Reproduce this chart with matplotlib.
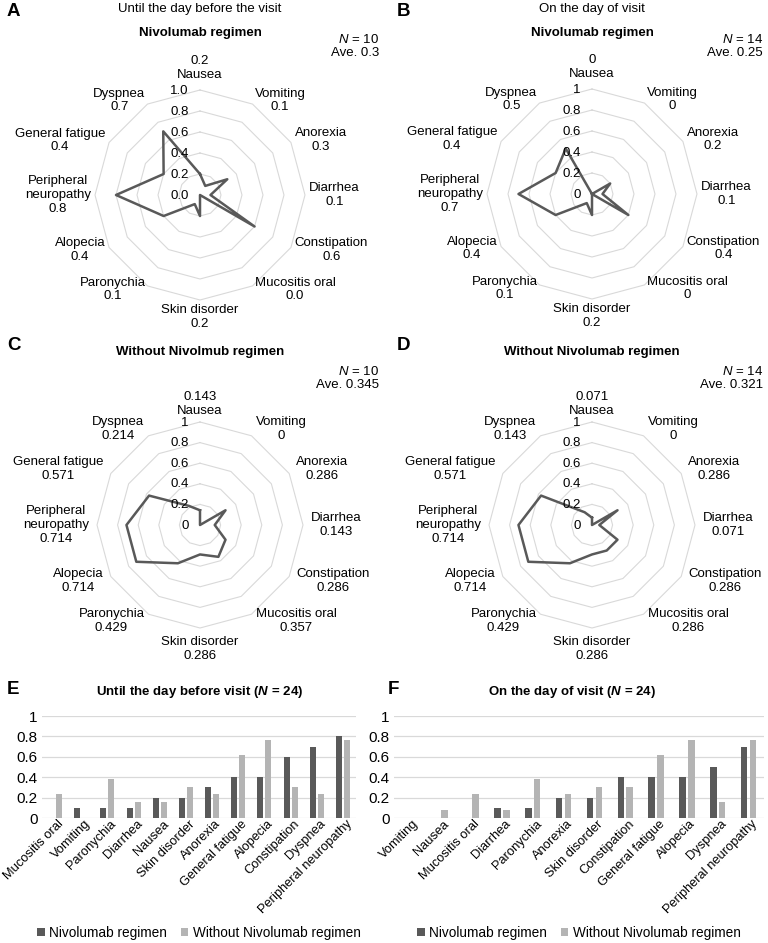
import numpy as np
import matplotlib
matplotlib.use("Agg")
import matplotlib.pyplot as plt
import matplotlib.transforms as mtransforms

plt.rcParams['font.family'] = ['Liberation Sans', 'DejaVu Sans']
plt.rcParams['mathtext.fontset'] = 'custom'
plt.rcParams['mathtext.rm'] = 'Liberation Sans'
plt.rcParams['mathtext.it'] = 'Liberation Sans:italic'
plt.rcParams['mathtext.bf'] = 'Liberation Sans:bold'
plt.rcParams['mathtext.bfit'] = 'Liberation Sans:italic:bold'

# radar categories (clockwise from top)
radar_cats = ['Nausea', 'Vomiting', 'Anorexia', 'Diarrhea', 'Constipation', 'Mucositis oral',
              'Skin disorder', 'Paronychia', 'Alopecia', 'Peripheral\nneuropathy',
              'General fatigue', 'Dyspnea']
nivo_before = [0.2, 0.1, 0.3, 0.1, 0.6, 0.0, 0.2, 0.1, 0.4, 0.8, 0.4, 0.7]
nivo_day = [0, 0, 0.2, 0.1, 0.4, 0, 0.2, 0.1, 0.4, 0.7, 0.4, 0.5]
without_before = [0.143, 0, 0.286, 0.143, 0.286, 0.357, 0.286, 0.429, 0.714, 0.714, 0.571, 0.214]
without_day = [0.071, 0, 0.286, 0.071, 0.286, 0.286, 0.286, 0.429, 0.714, 0.714, 0.571, 0.143]

# bar charts
cats_e = ['Mucositis oral', 'Vomiting', 'Paronychia', 'Diarrhea', 'Nausea', 'Skin disorder',
          'Anorexia', 'General fatigue', 'Alopecia', 'Constipation', 'Dyspnea',
          'Peripheral neuropathy']
nivo_e = [0, 0.1, 0.1, 0.1, 0.2, 0.2, 0.3, 0.4, 0.4, 0.6, 0.7, 0.8]
without_e = [0.231, 0, 0.385, 0.154, 0.154, 0.308, 0.231, 0.615, 0.769, 0.308, 0.231, 0.769]

cats_f = ['Vomiting', 'Nausea', 'Mucositis oral', 'Diarrhea', 'Paronychia', 'Anorexia',
          'Skin disorder', 'Constipation', 'General fatigue', 'Alopecia', 'Dyspnea',
          'Peripheral neuropathy']
nivo_f = [0, 0, 0, 0.1, 0.1, 0.2, 0.2, 0.4, 0.4, 0.4, 0.5, 0.7]
without_f = [0, 0.077, 0.231, 0.077, 0.385, 0.231, 0.308, 0.308, 0.615, 0.769, 0.154, 0.769]

W, H = 768, 943
DARK = '#595959'
LIGHT = '#B4B4B4'
GRID = '#D9D9D9'
FS = 9.5

fig = plt.figure(figsize=(W / 100, H / 100), dpi=100)


def rect(x0, y0, x1, y1):
    return [x0 / W, 1 - y1 / H, (x1 - x0) / W, (y1 - y0) / H]


def ftext(x, y, s, **kw):
    kw.setdefault('fontsize', FS)
    fig.text(x / W, 1 - y / H, s, **kw)


def fmt1(v):
    return f"{v:.1f}"


def fmtg(v):
    return f"{v:g}"


def radar(cx, cy, R, vals, fmt, lab_r, top_r):
    ax = fig.add_axes(rect(cx - R, cy - R, cx + R, cy + R), projection='polar')
    ax.set_theta_zero_location('N')
    ax.set_theta_direction(-1)
    ax.set_ylim(0, 1)
    ax.axis('off')
    theta = np.arange(12) * 2 * np.pi / 12
    tc = np.append(theta, theta[0])
    levels = np.arange(0, 1.01, 0.2)
    for lv in levels[1:]:
        ax.plot(tc, [lv] * 13, color=GRID, lw=0.8, clip_on=False, zorder=1)
    ax.plot(tc, np.append(vals, vals[0]), color=DARK, lw=1.8, clip_on=False, zorder=3)
    for lv in levels:
        ax.annotate(fmt(lv), xy=(0, lv), xytext=(-8, -0.5), textcoords='offset points',
                    ha='right', va='center', fontsize=FS, zorder=4)
    for i, name in enumerate(radar_cats):
        s, c = np.sin(theta[i]), np.cos(theta[i])
        if i == 0:
            txt = f"{fmt(vals[i])}\n{name}"
        else:
            txt = f"{name}\n{fmt(vals[i])}"
        ha = 'center' if abs(s) < 0.1 else ('left' if s > 0 else 'right')
        if c > 0.9:
            va, r = 'bottom', top_r
        elif c < -0.9:
            va, r = 'top', lab_r
        else:
            va, r = 'center', lab_r
        ax.text(theta[i], r, txt, ha=ha, va=va, multialignment='center', fontsize=FS)
    return ax


# panel A / B
ftext(7, 11, 'A', fontsize=13.5, fontweight='bold', va='center')
ftext(200, 9, 'Until the day before the visit', ha='center', va='center')
ftext(200, 33, 'Nivolumab regimen', ha='center', va='center', fontweight='bold')
ftext(379, 46, '$\\mathit{N}$ = 10\nAve. 0.3', ha='right', va='center', multialignment='right')
radar(200, 195, 105, nivo_before, fmt1, 1.04, 1.09)

ftext(397, 11, 'B', fontsize=13.5, fontweight='bold', va='center')
ftext(592, 9, 'On the day of visit', ha='center', va='center')
ftext(592, 33, 'Nivolumab regimen', ha='center', va='center', fontweight='bold')
ftext(763, 46, '$\\mathit{N}$ = 14\nAve. 0.25', ha='right', va='center', multialignment='right')
radar(592, 194, 105, nivo_day, fmtg, 1.04, 1.09)

# panel C / D
ftext(7, 346, 'C', fontsize=13.5, fontweight='bold', va='center')
ftext(200, 352, 'Without Nivolmub regimen', ha='center', va='center', fontweight='bold')
ftext(379, 378, '$\\mathit{N}$ = 10\nAve. 0.345', ha='right', va='center', multialignment='right')
radar(200, 525, 103, without_before, fmtg, 1.08, 1.05)

ftext(397, 346, 'D', fontsize=13.5, fontweight='bold', va='center')
ftext(592, 352, 'Without Nivolumab regimen', ha='center', va='center', fontweight='bold')
ftext(763, 378, '$\\mathit{N}$ = 14\nAve. 0.321', ha='right', va='center', multialignment='right')
radar(592, 525, 103, without_day, fmtg, 1.08, 1.05)


def bars(x0, x1, cats, a, b, w, title, tx, letter, lx):
    ax = fig.add_axes(rect(x0, 716, x1, 818))
    x = np.arange(len(cats))
    off = w / 2 + 0.04
    ax.bar(x - off, a, w, color=DARK, label='Nivolumab regimen')
    ax.bar(x + off, b, w, color=LIGHT, label='Without Nivolumab regimen')
    ax.set_xlim(-0.5, len(cats) - 0.5)
    ax.set_ylim(0, 1)
    ax.set_yticks(np.arange(0, 1.01, 0.2))
    ax.set_yticklabels(['0', '0.2', '0.4', '0.6', '0.8', '1'], fontsize=11)
    ax.yaxis.grid(True, color=GRID, lw=0.9)
    ax.set_axisbelow(True)
    for sp in ax.spines.values():
        sp.set_visible(False)
    ax.tick_params(axis='y', length=0, pad=3)
    ax.tick_params(axis='x', length=0, pad=3)
    ax.set_xticks(x)
    ax.set_xticklabels(cats, rotation=45, ha='right', va='center', rotation_mode='anchor',
                       fontsize=9.3)
    shift = mtransforms.ScaledTranslation(7 / 100, 0, fig.dpi_scale_trans)
    for lab in ax.get_xticklabels():
        lab.set_transform(lab.get_transform() + shift)
    ax.legend(loc='center', bbox_to_anchor=((x0 + x1) / 2 / W, 1 - 933 / H),
              bbox_transform=fig.transFigure, ncol=2, frameon=False, fontsize=FS + 0.3,
              handlelength=0.55, handleheight=0.55, handletextpad=0.35, columnspacing=1.0)
    ftext(tx, 692, title, ha='center', va='center', fontweight='bold')
    ftext(lx, 690, letter, fontsize=13.5, fontweight='bold', va='center')
    return ax


bars(42, 356, cats_e, nivo_e, without_e, 0.23,
     'Until the day before visit ($\\mathbfit{N}$ = 24)', 200, 'E', 7)
bars(394, 764, cats_f, nivo_f, without_f, 0.21,
     'On the day of visit ($\\mathbfit{N}$ = 24)', 572, 'F', 388)

fig.savefig('out.png', dpi=100)
